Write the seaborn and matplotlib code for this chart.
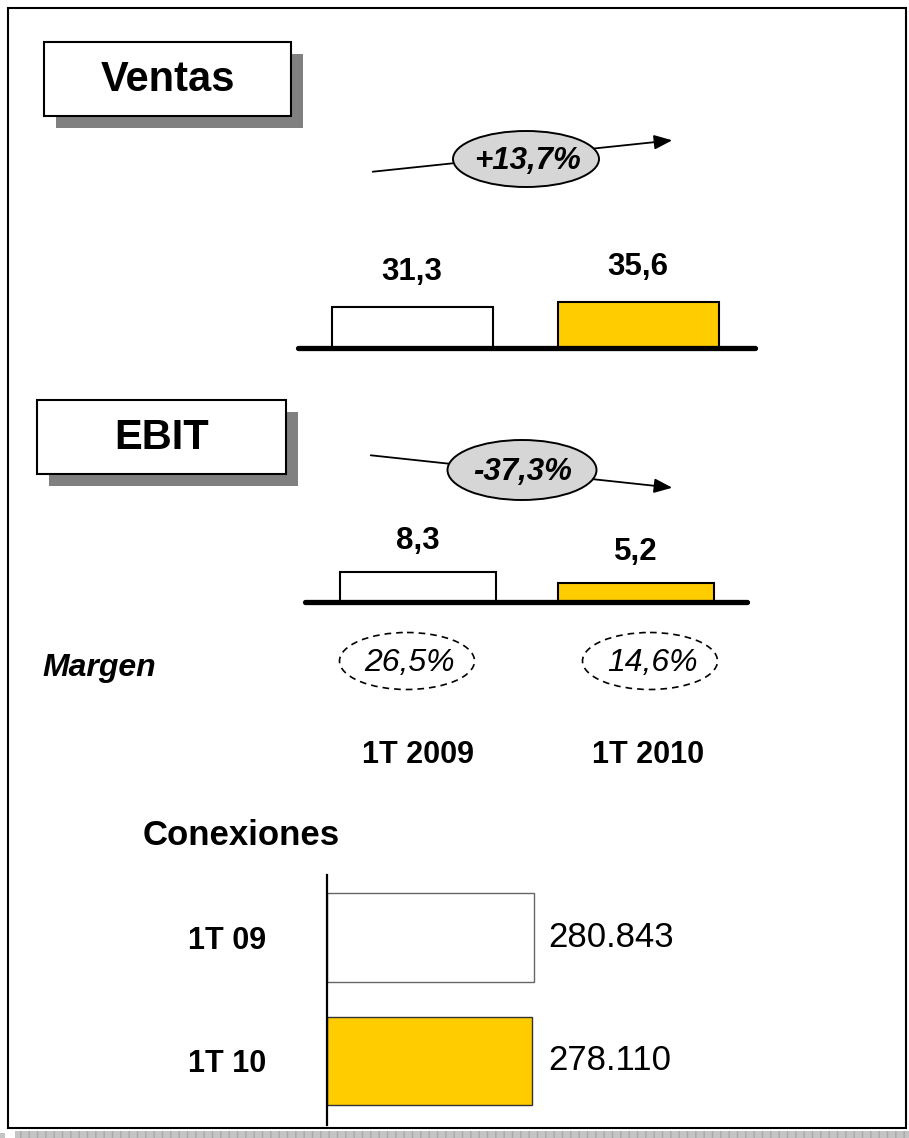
import matplotlib
matplotlib.use("Agg")
import matplotlib.pyplot as plt
import seaborn as sns
from matplotlib.patches import Rectangle, Ellipse, FancyArrowPatch

# ---------------- data ----------------
periods = ["1T 2009", "1T 2010"]
ventas = [31.3, 35.6]
ebit = [8.3, 5.2]
ventas_growth = "+13,7%"
ebit_growth = "-37,3%"
margen = [26.5, 14.6]
conex_labels = ["1T 09", "1T 10"]
conexiones = [280843, 278110]

WHITE = "#FFFFFF"
YELLOW = "#FFCC00"

sns.set_style("white")
plt.rcParams["font.family"] = ["Liberation Sans", "DejaVu Sans"]
plt.rcParams["text.color"] = "black"
plt.rcParams["axes.labelcolor"] = "black"
plt.rcParams["xtick.color"] = "black"
plt.rcParams["ytick.color"] = "black"

W, H = 909, 1138
fig = plt.figure(figsize=(W / 100, H / 100), dpi=100)
fig.patch.set_facecolor("white")


def px_axes(x0, y0, x1, y1, **kw):
    return fig.add_axes([x0 / W, 1 - y1 / H, (x1 - x0) / W, (y1 - y0) / H], **kw)


def fmt_dec(v):
    return f"{v:.1f}".replace(".", ",")


# ---------------- overlay (pixel coordinates) ----------------
ov = px_axes(0, 0, W, H)
ov.set_xlim(0, W)
ov.set_ylim(H, 0)
ov.axis("off")

# outer frame + shadow
ov.add_patch(Rectangle((15, 1131), 900, 8, facecolor="#c4c4c4", edgecolor="#a9a9a9",
                       hatch="||", lw=0, zorder=1))
ov.add_patch(Rectangle((0, 1133), 5, 5, facecolor="#c4c4c4", lw=0, zorder=1))
ov.add_patch(Rectangle((8, 8), 898, 1120, facecolor="none", edgecolor="black", lw=1.5, zorder=2))


def title_box(x0, y0, x1, y1, text, off=12):
    ov.add_patch(Rectangle((x0 + off, y0 + off), x1 - x0, y1 - y0, facecolor="#808080",
                           edgecolor="none", zorder=3))
    ov.add_patch(Rectangle((x0, y0), x1 - x0, y1 - y0, facecolor="white", edgecolor="black",
                           lw=1.5, zorder=4))
    ov.text((x0 + x1) / 2, (y0 + y1) / 2 + 1, text, ha="center", va="center",
            fontsize=30, fontweight="bold", zorder=5)


title_box(44, 42, 291, 116, "Ventas")
title_box(37, 400, 286, 474, "EBIT")


def growth_arrow(p0, p1, center, w, h, text):
    arr = FancyArrowPatch(p0, p1, arrowstyle="-|>,head_length=0.55,head_width=0.22",
                          mutation_scale=20, lw=1.3, color="black", zorder=3)
    ov.add_patch(arr)
    ov.add_patch(Ellipse(center, w, h, facecolor="#d6d6d6", edgecolor="black", lw=1.4, zorder=4))
    ov.text(center[0] + 1, center[1] + 2, text, ha="center", va="center", fontsize=22.5,
            fontweight="bold", fontstyle="italic", zorder=5)


growth_arrow((370, 172), (675, 140), (526, 159), 146, 56, ventas_growth)
growth_arrow((368, 455), (675, 488), (522, 470), 149, 60, ebit_growth)

# margen row
ov.text(42, 668, "Margen", ha="left", va="center", fontsize=23, fontweight="bold",
        fontstyle="italic")
for cx, m in zip([407, 650], margen):
    ov.add_patch(Ellipse((cx, 661), 135, 57, facecolor="none", edgecolor="black", lw=1.2,
                         linestyle=(0, (4, 3))))
    ov.text(cx + 2, 663, f"{fmt_dec(m)}%", ha="center", va="center", fontsize=23,
            fontstyle="italic")

# period labels
for cx, p in zip([418, 648], periods):
    ov.text(cx, 755, p, ha="center", va="center", fontsize=22, fontweight="bold")

# conexiones title
ov.text(143, 835, "Conexiones", ha="left", va="center", fontsize=25, fontweight="bold")


# ---------------- vertical bar charts ----------------
def vbar(x0, y0, x1, y1, values, px_per_unit, centers, width_px, label_off_px):
    ax = px_axes(x0, y0, x1, y1)
    ax.patch.set_alpha(0)
    sep = centers[1] - centers[0]
    sns.barplot(x=periods, y=values, hue=periods, palette=[WHITE, YELLOW], legend=False,
                saturation=1, width=width_px / sep, edgecolor="black", linewidth=1.5, ax=ax)
    ax.set_xlim(-(centers[0] - x0) / sep, 1 + (x1 - centers[1]) / sep)
    ax.set_ylim(0, (y1 - y0) / px_per_unit)
    ax.axhline(0, color="black", lw=3.8, solid_capstyle="round", clip_on=False, zorder=5)
    for i, v in enumerate(values):
        ax.annotate(fmt_dec(v), xy=(i, v), xytext=(0, label_off_px * 0.72),
                    textcoords="offset points", ha="center", va="center", fontsize=22.5,
                    fontweight="bold")
    ax.axis("off")
    return ax


vbar(298, 200, 755, 348, ventas, 1.3, [412, 638], 161, 35)
vbar(305, 500, 747, 602, ebit, 3.63, [418, 636], 156, 31)

# ---------------- horizontal bar chart ----------------
axc = px_axes(327, 875, 720, 1125)
axc.patch.set_alpha(0)
sns.barplot(x=conexiones, y=conex_labels, hue=conex_labels, palette=[WHITE, YELLOW],
            legend=False, orient="h", width=0.72, linewidth=1.0, saturation=1, ax=axc)
for patch, ec in zip(axc.patches, ["#666666", "#333333"]):
    patch.set_edgecolor(ec)
sep = 1061 - 937.5
axc.set_ylim(1 + (1125 - 1061) / sep, -(937.5 - 875) / sep)
axc.set_xlim(0, (720 - 327) * 280843 / 207)
for s in ["top", "right", "bottom"]:
    axc.spines[s].set_visible(False)
axc.spines["left"].set_linewidth(1.6)
axc.spines["left"].set_color("black")
axc.set_xticks([])
axc.set_xlabel("")
axc.set_ylabel("")
axc.tick_params(axis="y", length=0, pad=72)
for lab in axc.get_yticklabels():
    lab.set_ha("center")
    lab.set_fontsize(22)
    lab.set_fontweight("bold")
    lab.set_color("black")
xmax = max(conexiones)
for i, v in enumerate(conexiones):
    axc.annotate(f"{v:,}".replace(",", "."), xy=(xmax, i), xytext=(10, 0),
                 textcoords="offset points", ha="left", va="center", fontsize=25)

fig.savefig("out.png", dpi=100, facecolor="white")
